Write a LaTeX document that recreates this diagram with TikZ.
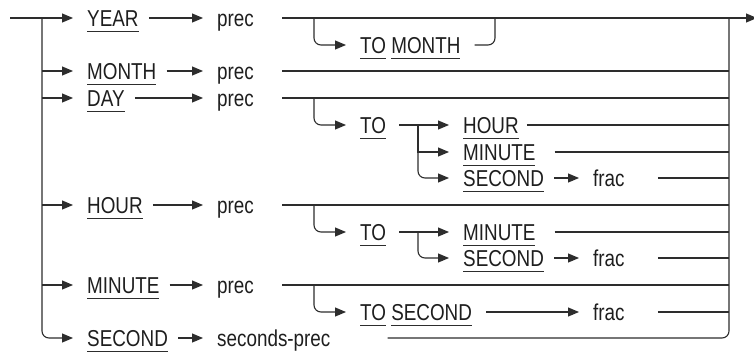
\documentclass[tikz,border=0pt]{standalone}
\usepackage{fontspec}
\setmainfont{Liberation Sans}[FakeStretch=0.82]
\usepackage{xcolor}
\usetikzlibrary{arrows.meta, positioning}
\definecolor{inkcolor}{RGB}{30,30,30}
\definecolor{railcolor}{RGB}{45,45,45}
\newsavebox{\kwdbox}
\newcommand{\kwd}[1]{\sbox{\kwdbox}{#1}\rlap{\color{railcolor}\rule[-6pt]{\wd\kwdbox}{1pt}}\usebox{\kwdbox}}

\begin{document}
\begin{tikzpicture}[
    x=1pt, y=-1pt,
    word/.style={inner sep=0pt, anchor=west, text height=16.5pt, text depth=0pt, font=\fontsize{23}{26}\selectfont, text=inkcolor},
    rail/.style={draw=railcolor, line width=1.1pt},
    arrow/.style={rail, -{Triangle[length=11pt,width=9pt]}, shorten >=14pt},
    link/.style={arrow, shorten <=10pt},
    exit/.style={rail, -{Triangle[length=11pt,width=9pt]}},
    curve/.style={rounded corners=7pt}
]
\useasboundingbox (0,0) rectangle (754,354);

% junctions
\coordinate (in) at (10,18);
\coordinate (ltrunk) at (42,18);
\coordinate (rtrunk) at (729,18);
\coordinate (out) at (757,18);
\coordinate (yearsplit) at (314,18);
\coordinate (yearjoin) at (495,18);
\coordinate (daysplit) at (314,98);
\coordinate (dayfork) at (418,125);
\coordinate (hoursplit) at (314,205);
\coordinate (hourfork) at (418,232);
\coordinate (minutesplit) at (314,285);

% first column
\node (year) [word] at (87,18) {\kwd{YEAR}};
\node (month) [word] at (87,71) {\kwd{MONTH}};
\node (day) [word] at (87,98) {\kwd{DAY}};
\node (hour) [word] at (87,205) {\kwd{HOUR}};
\node (minute) [word] at (87,285) {\kwd{MINUTE}};
\node (second) [word] at (87,338) {\kwd{SECOND}};

\node (yearprec) [word] at (217,18) {prec};
\node (monthprec) [word] at (217,71) {prec};
\node (dayprec) [word] at (217,98) {prec};
\node (hourprec) [word] at (217,205) {prec};
\node (minuteprec) [word] at (217,285) {prec};
\node (secprec) [word] at (217,338) {seconds-prec};

% TO parts
\node (tomonth) [word] at (360,45) {\kwd{TO} \kwd{MONTH}};
\node (dayto) [word] at (360,125) {\kwd{TO}};
\node (dayhour) [word] at (463,125) {\kwd{HOUR}};
\node (dayminute) [word] at (463,152) {\kwd{MINUTE}};
\node (daysecond) [word] at (463,178) {\kwd{SECOND}};
\node (dayfrac) [word] at (593,178) {frac};
\node (hourto) [word] at (360,232) {\kwd{TO}};
\node (hourminute) [word] at (463,232) {\kwd{MINUTE}};
\node (hoursecond) [word] at (463,258) {\kwd{SECOND}};
\node (hourfrac) [word] at (593,258) {frac};
\node (tosecond) [word] at (360,312) {\kwd{TO} \kwd{SECOND}};
\node (minutefrac) [word] at (593,312) {frac};

% entry and left trunk
\draw [rail] (in) -- (ltrunk);
\draw [arrow] (ltrunk) -- (year);
\draw [arrow] (ltrunk |- month) -- (month);
\draw [arrow] (ltrunk |- day) -- (day);
\draw [arrow] (ltrunk |- hour) -- (hour);
\draw [arrow] (ltrunk |- minute) -- (minute);
\draw [arrow, curve] (ltrunk) |- (second);

\draw [link] (year) -- (yearprec);
\draw [link] (month) -- (monthprec);
\draw [link] (day) -- (dayprec);
\draw [link] (hour) -- (hourprec);
\draw [link] (minute) -- (minuteprec);
\draw [link] (second) -- (secprec);

% main lines and right trunk
\draw [exit, shorten <=28pt] (yearprec) -- (out);
\draw [rail, shorten <=28pt] (monthprec) -- (monthprec -| rtrunk);
\draw [rail, shorten <=28pt] (dayprec) -- (dayprec -| rtrunk);
\draw [rail, shorten <=28pt] (hourprec) -- (hourprec -| rtrunk);
\draw [rail, shorten <=28pt] (minuteprec) -- (minuteprec -| rtrunk);
\draw [rail, curve, shorten <=57pt] (secprec) -| (rtrunk);

% YEAR TO MONTH
\draw [arrow, curve] (yearsplit) |- (tomonth);
\draw [rail, curve, shorten <=14pt] (tomonth) -| (yearjoin);

% DAY TO ...
\draw [arrow, curve] (daysplit) |- (dayto);
\draw [arrow, shorten <=13pt] (dayto) -- (dayhour);
\draw [arrow] (dayfork) |- (dayminute);
\draw [arrow, curve] (dayfork) |- (daysecond);
\draw [rail, shorten <=8pt] (dayhour) -- (dayhour -| rtrunk);
\draw [rail, shorten <=19pt] (dayminute) -- (dayminute -| rtrunk);
\draw [link] (daysecond) -- (dayfrac);
\draw [rail, shorten <=33pt] (dayfrac) -- (dayfrac -| rtrunk);

% HOUR TO ...
\draw [arrow, curve] (hoursplit) |- (hourto);
\draw [arrow, shorten <=13pt] (hourto) -- (hourminute);
\draw [arrow, curve] (hourfork) |- (hoursecond);
\draw [rail, shorten <=19pt] (hourminute) -- (hourminute -| rtrunk);
\draw [link] (hoursecond) -- (hourfrac);
\draw [rail, shorten <=33pt] (hourfrac) -- (hourfrac -| rtrunk);

% MINUTE TO SECOND
\draw [arrow, curve] (minutesplit) |- (tosecond);
\draw [arrow, shorten <=14pt] (tosecond) -- (minutefrac);
\draw [rail, shorten <=33pt] (minutefrac) -- (minutefrac -| rtrunk);
\end{tikzpicture}
\end{document}
